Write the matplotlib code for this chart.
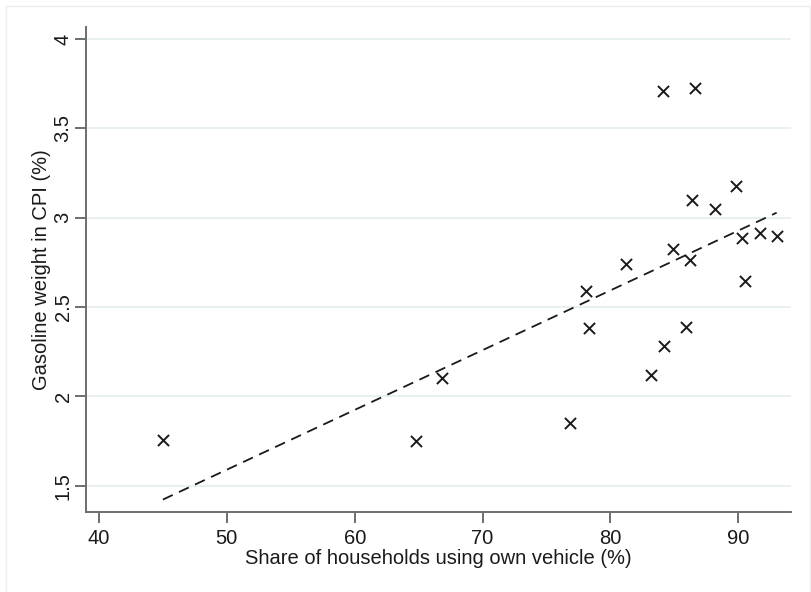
import numpy as np
import matplotlib
matplotlib.use("Agg")
import matplotlib.pyplot as plt
from matplotlib.patches import Rectangle

# Data
vehicle_share = [45.0, 64.8, 66.8, 76.8, 78.1, 78.3, 81.2, 83.2, 84.2, 84.1,
                 84.9, 86.6, 86.2, 85.9, 86.4, 88.2, 89.8, 90.3, 90.5, 91.7, 93.0]
gasoline_weight = [1.757, 1.752, 2.103, 1.851, 2.59, 2.384, 2.741, 2.12, 2.28, 3.71,
                   2.826, 3.725, 2.766, 2.39, 3.10, 3.05, 3.178, 2.886, 2.646, 2.916, 2.897]
x_ticks = [40, 50, 60, 70, 80, 90]
y_ticks = [1.5, 2, 2.5, 3, 3.5, 4]
y_tick_labels = ["1.5", "2", "2.5", "3", "3.5", "4"]

plt.rcParams['font.family'] = ['Liberation Sans', 'DejaVu Sans']

W, H = 812, 592
fig = plt.figure(figsize=(W / 100, H / 100), dpi=100)
fig.patch.set_facecolor('white')

# faint outer frame
fig.patches.append(Rectangle((6 / W, -0.05), (810 - 6) / W, 1 - 6 / H + 0.05,
                             transform=fig.transFigure, fill=False,
                             edgecolor='#eeeeee', linewidth=1.0))

left, right, top, bottom = 85.7, 790.7, 26.7, 512.3
ax = fig.add_axes([left / W, 1 - bottom / H, (right - left) / W, (bottom - top) / H])

x = np.array(vehicle_share)
y = np.array(gasoline_weight)

ax.scatter(x, y, marker='x', s=64, color='#1a1a1a', linewidths=1.4, zorder=3)

slope, intercept = np.polyfit(x, y, 1)
xf = np.array([x.min(), x.max()])
ax.plot(xf, slope * xf + intercept, color='#1a1a1a', linewidth=1.3,
        linestyle=(0, (6, 3.8)), zorder=2)

ax.set_xlim(38.96, 94.1)
ax.set_ylim(1.351, 4.07)
ax.set_xticks(x_ticks)
ax.set_yticks(y_ticks)
ax.set_yticklabels(y_tick_labels, rotation=90, va='center')

ax.grid(axis='y', color='#e6eff1', linewidth=1.3)
ax.set_axisbelow(True)

for s in ['top', 'right']:
    ax.spines[s].set_visible(False)
for s in ['left', 'bottom']:
    ax.spines[s].set_color('#6e6e6e')
    ax.spines[s].set_linewidth(1.4)

ax.tick_params(axis='both', colors='#6e6e6e', length=8, width=1.4,
               labelsize=14.5, labelcolor='#1a1a1a')
ax.tick_params(axis='x', pad=4)
ax.tick_params(axis='y', pad=1.5)

ax.set_xlabel("Share of households using own vehicle (%)", fontsize=14.5,
              color='#1a1a1a', labelpad=1)
ax.set_ylabel("Gasoline weight in CPI (%)", fontsize=14.5, color='#1a1a1a',
              labelpad=2)

fig.savefig("out.png", dpi=100, facecolor='white')
